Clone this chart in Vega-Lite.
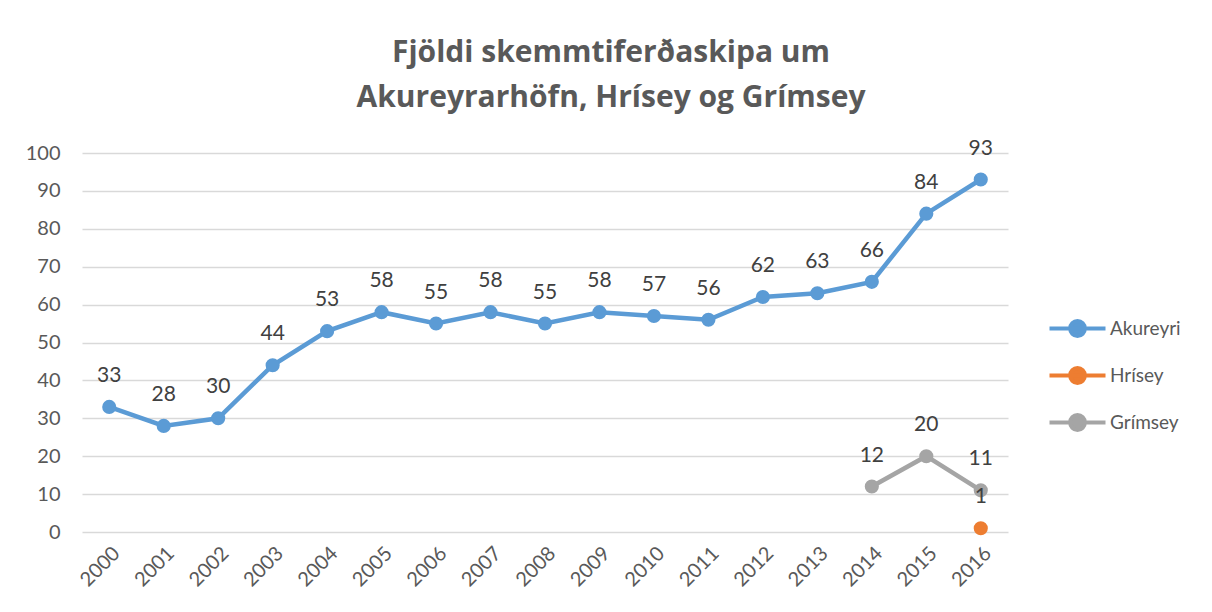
{
  "$schema": "https://vega.github.io/schema/vega-lite/v6.json",
  "width": 926,
  "height": 379,
  "autosize": {"type": "none"},
  "padding": {"left": 82, "top": 153, "right": 204, "bottom": 80},
  "background": "white",
  "title": {
    "text": ["Fjöldi skemmtiferðaskipa um", "Akureyrarhöfn, Hrísey og Grímsey"],
    "font": "Open Sans",
    "fontSize": 30,
    "fontWeight": "bold",
    "color": "#595959",
    "anchor": "middle",
    "frame": "group",
    "dx": 66,
    "offset": 25,
    "lineHeight": 45
  },
  "config": {
    "view": {"stroke": null},
    "font": "Lato",
    "axis": {"labelFont": "Lato", "labelColor": "#595959", "labelFontSize": 20}
  },
  "data": {
    "values": [
      {"year": "2000", "series": "Akureyri", "value": 33},
      {"year": "2001", "series": "Akureyri", "value": 28},
      {"year": "2002", "series": "Akureyri", "value": 30},
      {"year": "2003", "series": "Akureyri", "value": 44},
      {"year": "2004", "series": "Akureyri", "value": 53},
      {"year": "2005", "series": "Akureyri", "value": 58},
      {"year": "2006", "series": "Akureyri", "value": 55},
      {"year": "2007", "series": "Akureyri", "value": 58},
      {"year": "2008", "series": "Akureyri", "value": 55},
      {"year": "2009", "series": "Akureyri", "value": 58},
      {"year": "2010", "series": "Akureyri", "value": 57},
      {"year": "2011", "series": "Akureyri", "value": 56},
      {"year": "2012", "series": "Akureyri", "value": 62},
      {"year": "2013", "series": "Akureyri", "value": 63},
      {"year": "2014", "series": "Akureyri", "value": 66},
      {"year": "2015", "series": "Akureyri", "value": 84},
      {"year": "2016", "series": "Akureyri", "value": 93},
      {"year": "2016", "series": "Hrísey", "value": 1},
      {"year": "2014", "series": "Grímsey", "value": 12},
      {"year": "2015", "series": "Grímsey", "value": 20},
      {"year": "2016", "series": "Grímsey", "value": 11}
    ]
  },
  "encoding": {
    "x": {
      "field": "year",
      "type": "ordinal",
      "scale": {"type": "point", "padding": 0.5},
      "sort": null,
      "axis": {
        "title": null,
        "labelAngle": -45,
        "labelAlign": "right",
        "labelBaseline": "top",
        "ticks": false,
        "domain": false,
        "labelPadding": 11,
        "grid": false
      }
    },
    "y": {
      "field": "value",
      "type": "quantitative",
      "scale": {"domain": [0, 100], "nice": false},
      "axis": {
        "title": null,
        "values": [0, 10, 20, 30, 40, 50, 60, 70, 80, 90, 100],
        "ticks": false,
        "domain": false,
        "labelPadding": 22,
        "gridColor": "#D9D9D9",
        "gridWidth": 1.5
      }
    },
    "color": {
      "field": "series",
      "type": "nominal",
      "scale": {"domain": ["Akureyri", "Hrísey", "Grímsey"], "range": ["#5B9BD5", "#ED7D31", "#A5A5A5"]},
      "legend": {
        "title": null,
        "orient": "none",
        "legendX": 965,
        "legendY": 145,
        "symbolType": "M-1,0L1,0M-0.26,0A0.26,0.26,0,1,1,0.26,0A0.26,0.26,0,1,1,-0.26,0Z",
        "symbolSize": 3136,
        "symbolStrokeWidth": 4.2,
        "rowPadding": -11,
        "labelFont": "Lato",
        "labelFontSize": 19,
        "labelColor": "#595959",
        "labelOffset": 2,
        "encode": {
          "symbols": {"update": {"fill": {"scale": "color", "field": "value"}, "stroke": {"scale": "color", "field": "value"}, "opacity": {"value": 1}}}
        }
      }
    }
  },
  "layer": [
    {"mark": {"type": "line", "strokeWidth": 4.5}},
    {"mark": {"type": "point", "filled": true, "size": 200, "opacity": 1}},
    {
      "mark": {"type": "text", "dy": -31, "fontSize": 21, "font": "Lato", "baseline": "middle"},
      "encoding": {"text": {"field": "value", "type": "quantitative"}, "color": {"value": "#404040"}}
    }
  ]
}
